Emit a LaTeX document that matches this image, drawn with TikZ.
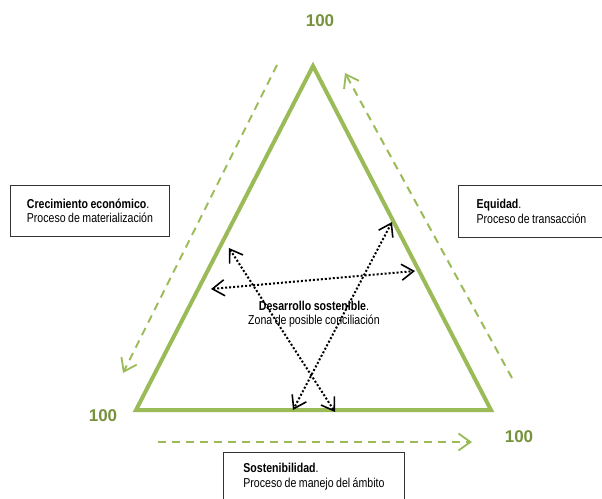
\documentclass[tikz,border=0pt]{standalone}
\usepackage{fontspec}
\setmainfont{Liberation Sans}
\newfontfamily\narrowfont[FakeStretch=0.82,WordSpace=0.85]{Liberation Sans}
\usetikzlibrary{arrows.meta}
\definecolor{trigreen}{HTML}{9BBB59}
\definecolor{numgreen}{HTML}{76923C}
\tikzset{
  sides/.style={draw=trigreen, line width=4pt, line join=miter},
  flow/.style={draw=trigreen, line width=2pt, dash pattern=on 8pt off 6pt,
    -{Straight Barb[length=12pt,width=17pt,line width=1.8pt]}},
  link/.style={draw=black, line width=2pt, dash pattern=on 2pt off 2pt,
    {Straight Barb[length=12pt,width=16pt,line width=1.6pt]}-{Straight Barb[length=12pt,width=16pt,line width=1.6pt]}},
  hundred/.style={text=numgreen, font=\fontsize{17}{20}\selectfont\bfseries},
  infobox/.style={draw=black!80, line width=0.9pt, fill=white, anchor=north west,
    align=left, font=\narrowfont\fontsize{12.9}{14.5}\selectfont, inner sep=0pt},
  centertext/.style={align=center, font=\narrowfont\fontsize{12.9}{14.5}\selectfont}
}
\begin{document}
\begin{tikzpicture}[x=1pt,y=-1pt]
\useasboundingbox (0,0) rectangle (602,498);
\clip (0,0) rectangle (602,498);
\fill[white] (0,0) rectangle (602,498);

% triangle corners
\coordinate (apex) at (313,66);
\coordinate (bl) at (136,410);
\coordinate (br) at (491,410);
\draw[sides] (apex) -- (bl) -- (br) -- cycle;

% corner values
\node[hundred] (ntop) at (320,21) {100};
\node[hundred] (nleft) at (103,416) {100};
\node[hundred] (nright) at (519,437) {100};

% processes along the sides
\coordinate (ls) at (277,65);
\coordinate (le) at (123,373);
\coordinate (rs) at (512,378);
\coordinate (re) at (345,73);
\coordinate (bs) at (158,442);
\coordinate (be) at (472,442);
\draw[flow] (ls) -- (le);
\draw[flow] (rs) -- (re);
\draw[flow] (bs) -- (be);

% process boxes (text block centred in a fixed-size frame)
\node[infobox, minimum width=159pt, minimum height=51pt] (crec) at (10,185)
  {{\bfseries Crecimiento econ\'omico}.\\Proceso de materializaci\'on};
\node[infobox, minimum width=146pt, minimum height=52pt] (equi) at (458,185)
  {{\bfseries Equidad}.\\Proceso de transacci\'on};
\node[infobox, minimum width=181pt, minimum height=60pt] (sost) at (223,452)
  {{\bfseries Sostenibilidad}.\\Proceso de manejo del \'ambito\\\mbox{}};

% tensions inside the triangle
\coordinate (h1) at (211,289);
\coordinate (h2) at (415,271);
\coordinate (d1) at (229,248);
\coordinate (d2) at (335,412);
\coordinate (e1) at (392,222);
\coordinate (e2) at (293,410);
\draw[link] (h1) -- (h2);
\draw[link] (d1) -- (d2);
\draw[link] (e1) -- (e2);

\node[centertext] (zona) at (314,314)
  {{\bfseries Desarrollo sostenible}.\\Zona de posible conciliaci\'on};
\end{tikzpicture}
\end{document}
